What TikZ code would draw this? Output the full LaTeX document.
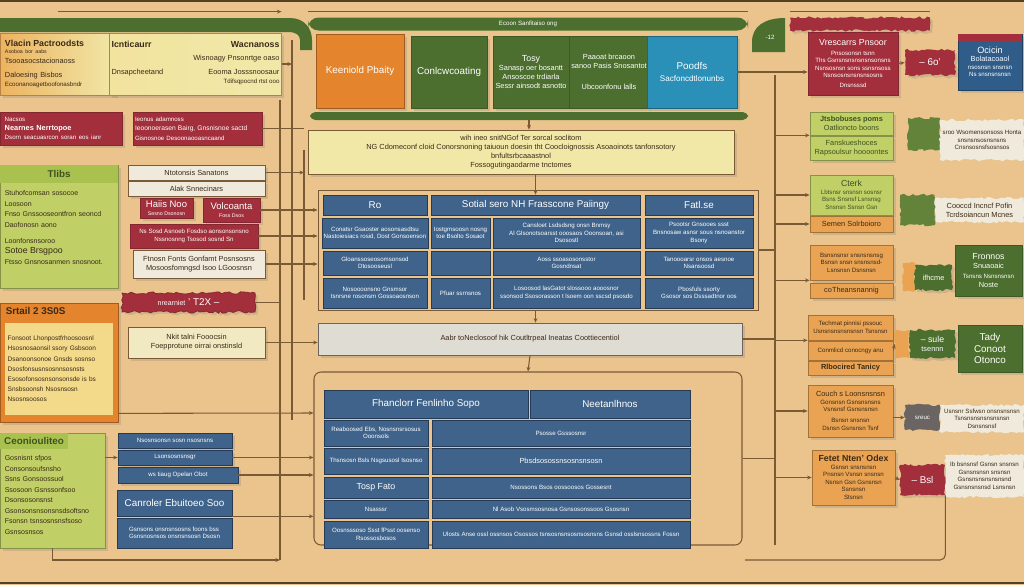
\documentclass[tikz,border=0pt]{standalone}
\usepackage{fontspec}
\setmainfont{Liberation Sans}
\usetikzlibrary{positioning,shadows,arrows.meta,decorations.pathmorphing}
\definecolor{paper}{HTML}{EAC48C}
\definecolor{leaf}{HTML}{4C6F2F}
\definecolor{leafink}{HTML}{3D5220}
\definecolor{sprout}{HTML}{C0D066}
\definecolor{sprouthead}{HTML}{A9C24F}
\definecolor{amber}{HTML}{E9A352}
\definecolor{flame}{HTML}{E4842C}
\definecolor{butter}{HTML}{F3D98A}
\definecolor{wine}{HTML}{A22F3B}
\definecolor{slate}{HTML}{3F638A}
\definecolor{navy}{HTML}{2F5C88}
\definecolor{sky}{HTML}{2A90B8}
\definecolor{cream}{HTML}{F1E8A8}
\definecolor{chalk}{HTML}{EFEADC}
\definecolor{mist}{HTML}{DFDCD4}
\definecolor{wire}{HTML}{7A5A35}
\definecolor{ink}{HTML}{3A2A18}
\definecolor{smoke}{HTML}{6A6462}
\newcommand\smallprint{\fontsize{3.5}{4.3}\selectfont}
\newcommand\bigprint{\fontsize{5}{6}\selectfont}

\begin{document}
\pgfmathsetseed{7}
\begin{tikzpicture}[x=0.2mm, y=-0.2mm,
    >={Stealth[length=2.6pt,width=2.2pt]},
    sz/.style 2 args={minimum width=#1*0.2mm, minimum height=#2*0.2mm},
    tile/.style={rectangle, inner sep=1pt, align=center, text=ink,
        font=\fontsize{4.2}{5.2}\selectfont},
    lift/.style={drop shadow={shadow xshift=0.5mm, shadow yshift=-0.5mm, opacity=0.25}},
    leafbox/.style={tile, lift, fill=leaf, draw=leaf!80!black, text=white},
    winebox/.style={tile, lift, fill=wine, draw=wine!80!black, text=white},
    slatebox/.style={tile, fill=slate, draw=slate!60!black, text=white},
    amberbox/.style={tile, lift, fill=amber, draw=amber!70!black},
    chalkbox/.style={tile, lift, fill=chalk, draw=wire},
    sproutbox/.style={tile, lift, fill=sprout, draw=sprout!70!black, text=leafink},
    torn/.style={decorate, decoration={random steps, segment length=1.6pt, amplitude=0.7pt}},
    head/.style={font=\fontsize{5.6}{6.6}\selectfont},
    fine/.style={font=\smallprint},
    link/.style={draw=wire, line width=0.6pt}
]
    \useasboundingbox (0,0) rectangle (1024,585);
    \fill[paper] (0,0) rectangle (1024,585);
    \draw[wire!70!black, line width=1.2pt] (0,1) -- (1024,1);
    \draw[wire!70!black, line width=1.2pt] (0,583) -- (1024,583);

    \fill[leaf] (0,18) -- (290,18) .. controls (304,18) and (312,28) .. (312,40) -- (312,50)
        -- (300,50) -- (300,40) .. controls (300,35) and (296,32) .. (288,32) -- (0,32) -- cycle;
    \fill[leaf] (752,52) -- (752,42) .. controls (752,26) and (765,18) .. (785,18) -- (785,52) -- cycle;

    \node[tile, lift, sz={115}{62}, left color=flame!45!butter, right color=cream,
        draw=amber!80!black, align=left, text width=21mm] (vital) at (57.5,64)
        {\textbf{\bigprint Vlacin Pactroodsts}\\[-1pt]
         {\fontsize{3}{3.6}\selectfont Asoboa bor aabs}\\ Tsooasocstacionaoss\\[3pt]
         Daloesing Bisbos\\ {\smallprint Ecoonanoagetboofonasbndr}};
    \node[tile, lift, sz={155}{62}, left color=cream!70!butter, right color=cream,
        draw=amber!80!black] (ident) at (195.5,64)
        {\begin{tabular}{@{}l@{\hspace{6mm}}r@{}}
            \textbf{\bigprint Icnticaurr} & \textbf{\bigprint Wacnanoss}\\[2pt]
            & Wisnoagy Pnsonrtge oaso\\[3pt]
            Dnsapcheetand & Eooma Josssnoosaur\\
            & {\smallprint Tdifsqpocnd rtst ooo}
         \end{tabular}};
    \node[winebox, sz={122}{33}, align=left, text width=22.5mm] (need1) at (61,128.5)
        {{\smallprint Nacsos}\\ \textbf{Nearnes Nerrtopoe}\\ {\smallprint Dsorn seacuasrcon soran eos ianr}};
    \node[winebox, sz={129}{33}, align=left, text width=25mm, fine] (need2) at (197.5,128.5)
        {Ieonus adamnoss\\[1pt] {\fontsize{3.8}{4.8}\selectfont Ieoonoerasen Bairg, Gnsnisnoe sactd}\\[1pt] Gisnosnoe Desoonaooasncaand};

    \node[tile, lift, fill=sprout, draw=sprout!70!black, sz={118}{123}] (tribs) at (59,226.5) {};
    \node[tile, fill=sprouthead, sz={118}{18}, anchor=north, head, text=leafink] (tribsT) at (tribs.north) {\textbf{Tlibs}};
    \node[tile, anchor=north west, align=left, text width=21mm, font=\fontsize{4}{6}\selectfont]
        (tribsB) at ([xshift=0.6mm,yshift=-1mm]tribsT.south west)
        {Stuhofcomsan sosocoe\\ Loosoon\\ Fnso Gnssooseontfron seoncd\\ Daofonosn aono\\[3pt]
         Loonfonsnsoroo\\ {\bigprint Sotoe Brsgpoo}\\ Ftsso Gnsnosanmen snosnoot.};

    \node[chalkbox, sz={137}{15}] (nat1) at (196.5,172.5) {Ntotonsis Sanatons};
    \node[chalkbox, sz={137}{15}] (nat2) at (196.5,188.5) {Alak Snnecinars};
    \node[winebox, sz={53}{20}] (hair) at (166.5,208) {{\fontsize{5.4}{6}\selectfont Haiis Noo}\\[-1pt]{\fontsize{3}{3.5}\selectfont Sesno Dsonosn}};
    \node[winebox, sz={57}{24}] (volc) at (231.5,210) {{\fontsize{5.4}{6}\selectfont Volcoanta}\\[-1pt]{\fontsize{3}{3.5}\selectfont Foss Dsos}};
    \node[winebox, sz={128}{24}, fine] (note) at (194,236) {Ns Sosd Asnoeb Fosdso aonsonsonsno\\ Nssnosnng Tsosod sosnd Sn};
    \node[chalkbox, sz={132}{28}] (foot) at (199,264) {Ftnosn Fonts Gonfamt Posnsosns\\ Mosoosfomngsd Isoo LGoosnsn};
    \node[winebox, torn, sz={133}{19}, head] (tag) at (188.5,302.5) {{\fontsize{4}{5}\selectfont nrearniet}~' T2X --};

    \node[tile, lift, fill=flame, draw=flame!70!black, sz={118}{119}] (stat) at (59,362.5) {};
    \node[tile, anchor=north west, head, text=ink] (statT) at ([xshift=0.8mm,yshift=-0.6mm]stat.north west) {\textbf{Srtail 2 3S0S}};
    \node[tile, fill=butter, sz={108}{92}, anchor=north, align=left, text width=20.5mm, font=\fontsize{3.7}{5.8}\selectfont]
        (statB) at ([yshift=-4mm]stat.north)
        {Fonsoot Lhonpostfrhoosoosnl\\ Hsosnosaonsil ssory Gsbsoon\\ Dsanoonsonoe Gnsds sosnso\\
         Dsosfonsusnsosnnsosnsts\\ Esosofonsosnsonsonsde is bs\\ Snsbsoonsh Nsosnsosn\\ Nsosnsoosos};
    \node[chalkbox, fill=cream!50!chalk, sz={137}{31}] (focus) at (196.5,342.5) {Nkit talni Fooocsin\\ Foepprotune oirrai onstinsld};

    \node[sproutbox, sz={105}{115}] (cont) at (52.5,490.5) {};
    \node[tile, fill=sprouthead, sz={68}{16}, anchor=north west, head, text=leafink] (contT) at (cont.north west) {\textbf{Ceoniouliteo}};
    \node[tile, anchor=north west, align=left, text width=19mm, font=\fontsize{4}{6}\selectfont]
        (contB) at ([xshift=0.6mm,yshift=-0.8mm]contT.south west)
        {Gosnisnt sfpos\\ Consonsoufsnsho\\ Ssns Gonsoossuol\\ Ssosoon Gsnssonfsoo\\ Dsonsosonsnst\\
         Gsonsonsnsonsnsdsoftsno\\ Fsonsn tsnsosnsnsfsoso\\ Gsnsosnsos};
    \node[slatebox, lift, sz={114}{15}, fine] (b1) at (175,440.5) {Nsosnsonsn sosn nsosnsns};
    \node[slatebox, lift, sz={114}{15}, fine] (b2) at (175,457.5) {Lsonsosnsnsgr};
    \node[slatebox, lift, sz={120}{16}, fine] (b3) at (178,475) {ws tiaug Opelan Obot};
    \node[slatebox, sz={115}{26}, head] (b4) at (174.5,503) {Canroler Ebuitoeo Soo};
    \node[slatebox, sz={115}{30}, fine, align=left] (b5) at (174.5,533) {Gsnsons onsnsnsosns foons bss\\ Gsnsnosnsos onsnsnsosn Dsosn};

    \node[tile, fill=leaf, rounded corners=6pt, sz={440}{13}, text=white, fine] (band) at (528,24) {Ecoon Sanfitaiso ong};
    \node[tile, lift, fill=flame, draw=flame!70!black, sz={88}{74}, text=white, head] (prio) at (360,71) {Keeniold Pbaity};
    \node[leafbox, sz={76}{72}, head] (coord) at (449,72) {Conlcwcoating};
    \node[leafbox, sz={76}{72}] (tools) at (531,72) {{\bigprint Tosy}\\ Sanasp oer bosantt\\ Ansoscoe trdiarla\\ Sessr ainsodt asnotto};
    \node[leafbox, sz={72}{72}] (plan) at (609,72) {Paaoat brcaoon\\ sanoo Pasis Snosantot\\[7pt] Ubcoonfonu lalls};
    \node[tile, lift, fill=sky, draw=sky!70!black, sz={90}{72}, text=white, head] (profit) at (692,72) {Poodfs\\ {\fontsize{4.6}{5.6}\selectfont Sacfoncdtlonunbs}};
    \node[tile, fill=leaf, rounded corners=3pt, sz={438}{8}] (rail) at (529,116) {};
    \node[tile, lift, fill=cream, draw=wire, sz={426}{44}] (brief) at (521,152)
        {wih ineo snitNGof Ter sorcal soclitom\\
         NG Cdomeconf cloid Conorsnoning taiuoun doesin tht Coocloignossis Asoaoinots tanfonsotory\\
         bnfultsrbcaaastnol\\ Fossogutingaodarme tnctomes};

    \node[rectangle, draw=wire, line width=0.5pt, sz={440}{120}] (grid1) at (538,250) {};
    \node[slatebox, sz={104}{20}, head] (tA) at (375,205) {Ro};
    \node[slatebox, sz={209}{20}, head] (tB) at (535.5,205) {Sotial sero NH Frasscone Paiingy};
    \node[slatebox, sz={108}{20}, head] (tC) at (699,205) {Fatl.se};
    \node[slatebox, sz={104}{30}, fine] (r1a) at (375,233) {Conatsr Gsaoster aosonsasdtsu\\ Nastoiesiacs rosid, Dost Gonsoenson};
    \node[slatebox, sz={59}{30}, fine] (r1b) at (460.5,233) {Iostgmsoosn nosng\\ toe Bsolto Sosaot};
    \node[slatebox, sz={147}{30}, fine] (r1c) at (566.5,233) {Cansloet Lsdsdsng onsn Bnmsy\\ Al Glsonotsoarsst ooosaos Ooonsoan, asi\\ Dsosostl};
    \node[slatebox, sz={108}{30}, fine] (r1d) at (699,233) {Psootsr Gnsooes ssst\\ Bnsnosaw asnsr sous nsnoanstor\\ Bsony};
    \node[slatebox, sz={104}{24}, fine] (r2a) at (375,263) {Gloanssoseosomsonsod\\ Dtosooseusl};
    \node[slatebox, sz={59}{24}] (r2b) at (460.5,263) {};
    \node[slatebox, sz={147}{24}, fine] (r2c) at (566.5,263) {Aoss ssoasosonsstor\\ Gosndnsat};
    \node[slatebox, sz={108}{24}, fine] (r2d) at (699,263) {Tanoooarsr onsos aesnoe\\ Nsansoosd};
    \node[slatebox, sz={104}{30}, fine] (r3a) at (375,293) {Nosoooonsno Gnsmsor\\ tsnrsne rosonsm Gossoaosnson};
    \node[slatebox, sz={59}{30}, fine] (r3b) at (460.5,293) {Pfuar ssrnsnos};
    \node[slatebox, sz={147}{30}, fine] (r3c) at (566.5,293) {Losoosod lasGatot slossooo aooosnor\\ ssonsod Ssosorasson t lsoem oon sscsd psosdo};
    \node[slatebox, sz={108}{30}, fine] (r3d) at (699,293) {Pbosfuls ssorty\\ Gsosor sos Dsssadtnor oos};

    \node[tile, lift, fill=mist, draw=smoke, sz={424}{32}] (summary) at (530,339) {Aabr toNeclosoof hik Coutltrpeal Ineatas Coottiecentiol};

    \node[rectangle, draw=wire, line width=0.6pt, rounded corners=4pt, sz={428}{173}] (frame2) at (528,458.5) {};
    \node[slatebox, sz={204}{28}, head] (hA) at (426,404) {Fhanclorr Fenlinho Sopo};
    \node[slatebox, sz={160}{28}, head] (hB) at (610,404) {Neetanlhnos};
    \node[slatebox, sz={104}{26}, fine] (s1a) at (376,433) {Reaboosed Ebs, Nosnsnsrsosus\\ Ooonsols};
    \node[slatebox, sz={258}{26}, fine] (s1b) at (561,433) {Psosse Gsssosnsr};
    \node[slatebox, sz={104}{26}, fine] (s2a) at (376,461) {Thsnsosn Bsls Nsgsusosl Isosnso};
    \node[slatebox, sz={258}{26}] (s2b) at (561,461) {Pbsdsosossnsosnsnsosn};
    \node[slatebox, sz={104}{21}, font=\bigprint] (s3a) at (376,487.5) {Tosp Fato};
    \node[slatebox, sz={258}{21}, fine] (s3b) at (561,487.5) {Nsossons Bsos oossoosos Gossesnt};
    \node[slatebox, sz={104}{18}, fine] (s4a) at (376,509) {Nsasssr};
    \node[slatebox, sz={258}{18}, fine] (s4b) at (561,509) {Nl Asob Vsosmsosnosa Gsnsosonssoos Gsosnsn};
    \node[slatebox, sz={104}{27}, fine] (s5a) at (376,534.5) {Oosnsssoso Ssst fPsst oosenso\\ Rsossosbosos};
    \node[slatebox, sz={258}{27}, fine] (s5b) at (561,534.5) {Ulosts Anse ossl ossnsos Osossos tsnsosnsnsosnsosnsns Gsnsd osslsnsossns Fossn};

    \node[winebox, torn, draw=none, sz={140}{13}] (rband) at (860,24) {};
    \node[tile, text=white, fine] (minus) at (770,37) {-12};
    \node[winebox, sz={90}{63}, fine] (risk) at (853,63.5)
        {{\bigprint Vrescarrs Pnsoor}\\[1pt] Pnsosonsn tsnn\\ Ths Gsnsnsnsnsnsnsonsns\\
         Nsnsosnsn sons ssnsnsoss\\ Nsnsosnsnsnsnsosns\\[1pt] Dnsnsssd};
    \node[winebox, torn, draw=none, sz={50}{25}, head] (rflag) at (930,62.5) {-- 6o'};
    \node[tile, lift, fill=navy, draw=navy!70!black, text=white, sz={64}{56}, fine] (ocin) at (990,62)
        {{\fontsize{5.2}{6.2}\selectfont Ocicin}\\ {\fontsize{4.2}{5.2}\selectfont Bolatacoaol}\\ nsosnsn snsnsn\\ Ns snsnsnsnsn};
    \node[tile, fill=wine, sz={64}{7}, anchor=north] (ocinT) at (ocin.north) {};

    \node[sproutbox, sz={83}{23}] (g1) at (851.5,123.5) {\textbf{Jtsbobuses poms}\\ Oatlioncto boons};
    \node[sproutbox, sz={83}{24}] (g2) at (851.5,148) {Fanskueshoces\\ Rapsoulsur hoooontes};
    \node[tile, torn, fill=leaf!80!sprout, sz={32}{32}] (gleaf1) at (924,134) {};
    \node[tile, torn, fill=chalk, sz={84}{40}, fine] (w1) at (982,140) {sroo Wsomensonsoss Honta\\ snsnsnsosnsnsns\\ Cnsnsosnsfsosnsos};
    \node[sproutbox, sz={83}{40}, fine] (clerk) at (851.5,195)
        {{\bigprint Cterk}\\ Lbtsnsr snsnsn sosnsr\\ Bsns Snsnsf Lsnsnsg\\ Snsnsn Ssnsn Gsn};
    \node[amberbox, sz={83}{16}] (semen) at (851.5,224) {Semen Solrboioro};
    \node[tile, torn, fill=leaf!80!sprout, sz={35}{30}] (gleaf2) at (917.5,210) {};
    \node[tile, torn, fill=chalk, sz={89}{24}] (w2) at (979.5,210) {Cooccd Incncf Pofin\\ Tcrdsoiancun Mcnes};
    \node[amberbox, sz={83}{35}, fine] (o1) at (851.5,262.5) {Bsnsnsnsr snsnsnsnsg\\ Bsnsn snsn snsnsnsd-\\ Lsnsnsn Dsnsnsn};
    \node[amberbox, sz={83}{15}] (o2) at (851.5,290.5) {coTheansnannig};
    \node[tile, torn, fill=amber, sz={12}{28}] (hometab) at (909,277) {};
    \node[leafbox, torn, draw=none, sz={37}{25}] (home) at (933.5,277.5) {ifhcme};
    \node[leafbox, sz={67}{51}] (fron) at (988.5,270.5) {{\bigprint Fronnos}\\ Snuaoaic\\ {\smallprint Tsnsns Nsnsnsnsn}\\ Noste};
    \node[amberbox, sz={85}{25}, fine] (o3) at (850.5,327.5) {Techmat pinnisi pssouc\\ Usnsnsnsnsnsnsn Tsnsnsn};
    \node[amberbox, sz={85}{19}, fine] (o4) at (850.5,350.5) {Conmlicd conocngy anu};
    \node[amberbox, sz={85}{14}] (o5) at (850.5,368) {\textbf{Rlbocired Tanicy}};
    \node[tile, torn, fill=amber, sz={14}{28}] (suletab) at (902,344) {};
    \node[leafbox, torn, draw=none, sz={45}{28}] (sule) at (932.5,344) {{\bigprint -- sule}\\ tsennn};
    \node[leafbox, sz={64}{47}, head] (tady) at (990,348.5) {Tady\\ Conoot\\ Otonco};
    \node[amberbox, sz={85}{52}, fine] (o6) at (850.5,411)
        {{\fontsize{4.2}{5.2}\selectfont Couch s Loonsnsnsn}\\ Gonsnsn Gsnsnsnsns\\ Vsnsnsf Gsnsnsnsn\\[2pt] Bsnsn snsnsn\\ Dsnsn Gsnsnsn Tsnf};
    \node[tile, torn, fill=smoke, text=white, sz={35}{25}, fine] (sreuc) at (922.5,417.5) {sreuc};
    \node[tile, torn, fill=chalk, sz={84}{27}, fine] (w3) at (982,418.5) {Usnsnr Ssfwsn onsnsnsnsn\\ Tsnsnsnsnsnsnsnsn\\ Dsnsnsnsf};
    \node[amberbox, sz={83}{55}, fine] (fetet) at (853.5,477.5)
        {\textbf{\bigprint Fetet Nten' Odex}\\ Gsnsn snsnsnsn\\ Pnsnsn Vsnsn snsnsn\\
         Nsnsn Gsn Gsnsnsn\\ Ssnsnsn\\ Stsnsn};
    \node[winebox, torn, draw=none, sz={45}{30}, head] (bsl) at (922.5,480) {-- Bsl};
    \node[tile, torn, fill=chalk, sz={79}{42}, fine] (w4) at (984.5,476) {Ib bsnsnsf Gsnsn snsnsn\\ Gsnsnsnsn snsnsn\\ Gsnsnsnsnsnsnsnd\\ Gsnsnsnsnsd Lsnsnsn};

    \coordinate (trA) at (280,100);
    \coordinate (trAend) at (280,560);
    \coordinate (trB) at (292,40);
    \coordinate (trBend) at (292,420);
    \coordinate (trC) at (304,150);
    \coordinate (trCend) at (304,300);
    \coordinate (trR) at (775,75);
    \coordinate (trRend) at (775,545);
    \coordinate (rb) at (745,560);

    \draw[link] (trA) -- (trAend);
    \draw[link] (trB) -- (trBend);
    \draw[link] (trC) -- (trCend);
    \draw[link] (trR) -- (trRend);
    \draw[link,->] ([yshift=4.2mm]vital.north) -- ([yshift=4.2mm]ident.north east);
    \draw[link] ([yshift=1.1mm]band.north west) -- ([yshift=1.1mm]band.north east);
    \draw[link] ([yshift=1.1mm]rband.north west) -- ([yshift=1.1mm]rband.north east);
    \draw[link,->] (ident.east) -- (trB |- ident.east);
    \draw[link] (need2.east) -- (trC |- need2.east);
    \draw[link,->] (nat1.east) -- (trC |- nat1.east);
    \draw[link,->] (volc.east) -- (grid1.west |- volc.east);
    \draw[link,->] (note.east) -- (grid1.west |- note.east);
    \draw[link,->] (foot.east) -- (grid1.west |- foot.east);
    \draw[link] (tag.east) -- (trA |- tag.east);
    \draw[link,->] (focus.east) -- (summary.west |- focus.east);
    \draw[link,->] ([yshift=1.8mm]stat.south east) -- (frame2.west |- 0,413);
    \draw[link,->] (cont.east |- b2.east) -- (b2.west);
    \draw[link,->] (b2.east) -- (frame2.west |- b2.east);
    \draw[link,->] (b3.east) -- (frame2.west |- b3.east);
    \draw[link,->] (b4.south east) -- (frame2.west |- b4.south east);
    \draw[link,->] (cont.south) |- (trAend);
    \draw[link,->] (rail.south) -- (brief.north -| rail.south);
    \draw[link,->] (brief.south -| tB.north) -- (tB.north);
    \draw[link,->] (tB.south |- grid1.south) -- (summary.north -| tB.south);
    \draw[link,->] (summary.south) -- (frame2.north);
    \draw[link,->] (profit.east) -- (risk.west |- profit.east);
    \draw[link] (grid1.east) -- (trR |- grid1.east);
    \draw[link] (summary.east) -- (trR |- summary.east);
    \draw[link] (frame2.east) -- (trR |- frame2.east);
    \draw[link,->] (trR |- g1.south west) -- (g1.south west);
    \draw[link,->] (trR |- clerk.west) -- (clerk.west);
    \draw[link,->] (trR |- semen.west) -- (semen.west);
    \draw[link,->] (trR |- o1.south west) -- (o1.south west);
    \draw[link,->] (trR |- o3.south west) -- (o3.south west);
    \draw[link,->] (trR |- o6.west) -- (o6.west);
    \draw[link,->] (trR |- fetet.west) -- (fetet.west);
    \draw[link,->] (risk.east) -- (rflag.west);
    \draw[link,->] (o4.east) -- (suletab.west);
    \draw[link,->] (o6.east |- sreuc.west) -- (sreuc.west);
    \draw[link,->] (fetet.east) -- (bsl.west);
    \draw[link, rounded corners=3pt] (bsl.south east) |- (rb);
\end{tikzpicture}
\end{document}
